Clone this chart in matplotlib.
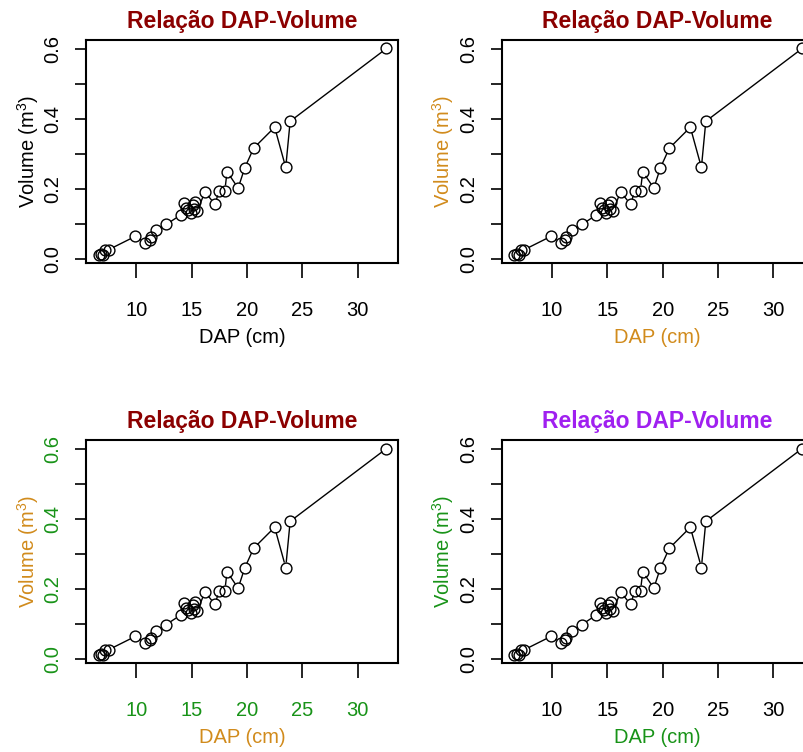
import numpy as np
import matplotlib
matplotlib.use('Agg')
import matplotlib.pyplot as plt
from matplotlib import font_manager

# fonte parecida com a do R (Arial estreita)
try:
    font_manager.findfont('Liberation Sans Narrow', fallback_to_default=False)
    fonte = 'Liberation Sans Narrow'
except Exception:
    fonte = 'Liberation Sans'
plt.rcParams['font.family'] = [fonte, 'DejaVu Sans']
plt.rcParams['mathtext.fontset'] = 'custom'
plt.rcParams['mathtext.rm'] = fonte

# dados (DAP em cm, volume em m3)
dap = [6.6, 6.8, 7.0, 7.2, 7.5, 9.9, 10.8, 11.2, 11.3, 11.8, 12.7, 14.0, 14.3, 14.5,
       14.7, 14.9, 15.1, 15.2, 15.3, 15.5, 16.2, 17.1, 17.5, 18.0, 18.2, 19.2, 19.8,
       20.6, 22.5, 23.5, 23.9, 32.6]
volume = [0.013, 0.016, 0.012, 0.026, 0.027, 0.065, 0.047, 0.055, 0.062, 0.082, 0.099,
          0.126, 0.160, 0.145, 0.140, 0.133, 0.155, 0.143, 0.163, 0.137, 0.192, 0.157,
          0.196, 0.196, 0.250, 0.203, 0.261, 0.317, 0.377, 0.262, 0.394, 0.602]
xticks = [10, 15, 20, 25, 30]
yticks = [0.0, 0.1, 0.2, 0.3, 0.4, 0.5, 0.6]
ylabels = ['0.0', '', '0.2', '', '0.4', '', '0.6']
titulo = 'Relação DAP-Volume'

vermelho = '#8B0000'
roxo = '#A020F0'
laranja = '#D18B1C'
verde = '#189318'

# (cor do titulo, cor dos rotulos dos eixos, cor dos numeros)
paineis = [
    (vermelho, 'black', 'black'),
    (vermelho, laranja, 'black'),
    (vermelho, laranja, verde),
    (roxo, verde, 'black'),
]
posicoes = [
    [0.107, 0.650, 0.388, 0.2965],
    [0.624, 0.650, 0.388, 0.2965],
    [0.107, 0.118, 0.388, 0.2965],
    [0.624, 0.118, 0.388, 0.2965],
]


def linha_com_falhas(ax, x, y, r=5.8):  # linhas do type="b" do R
    ax.set_xlim(5.46, 33.64)
    ax.set_ylim(-0.0116, 0.6256)
    pts = ax.transData.transform(np.column_stack([x, y]))
    inv = ax.transData.inverted()
    for p0, p1 in zip(pts[:-1], pts[1:]):
        d = p1 - p0
        L = np.hypot(d[0], d[1])
        if L <= 2 * r:
            continue
        u = d / L
        a = inv.transform(p0 + u * r)
        b = inv.transform(p1 - u * r)
        ax.plot([a[0], b[0]], [a[1], b[1]], color='black', lw=1.0)


fig = plt.figure(figsize=(8.04, 7.52), dpi=100)

for pos, (c_tit, c_lab, c_num) in zip(posicoes, paineis):
    ax = fig.add_axes(pos)
    linha_com_falhas(ax, dap, volume)
    ax.plot(dap, volume, 'o', mfc='none', mec='black', ms=7.8, mew=1.0)
    ax.set_xlim(5.46, 33.64)
    ax.set_ylim(-0.0116, 0.6256)

    ax.set_xticks(xticks)
    ax.set_xticklabels([str(t) for t in xticks], color=c_num, fontsize=14.5)
    ax.set_yticks(yticks)
    ax.set_yticklabels(ylabels, color=c_num, fontsize=14.5, rotation=90, va='center')
    ax.tick_params(axis='x', direction='out', length=11, width=1.2, pad=16)
    ax.tick_params(axis='y', direction='out', length=8, width=1.2, pad=9)
    for s in ax.spines.values():
        s.set_linewidth(1.5)

    ax.set_xlabel('DAP (cm)', color=c_lab, fontsize=14.5)
    ax.xaxis.set_label_coords(0.5, -0.29)
    ax.set_ylabel('Volume (m$^3$)', color=c_lab, fontsize=14.5)
    ax.yaxis.set_label_coords(-0.145, 0.5)
    ax.set_title(titulo, color=c_tit, fontsize=16.5, fontweight='bold', pad=9)

fig.savefig('out.png', dpi=100)
